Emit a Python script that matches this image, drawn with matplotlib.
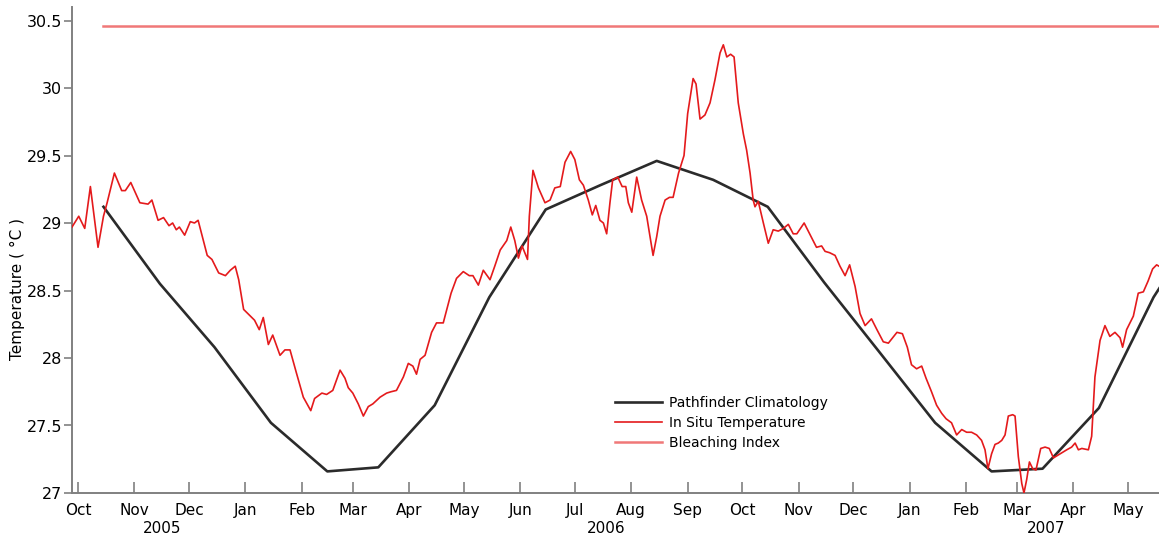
import numpy as np
import pandas as pd
import matplotlib
matplotlib.use("Agg")
import matplotlib.pyplot as plt
import matplotlib.dates as mdates
import matplotlib.transforms as mtransforms

# in situ temperature (days since 2005-10-01, deg C)
insitu_days = [-3.3, 0.4, 3.7, 6.8, 11, 14, 16, 20, 24, 26, 29, 34, 38.5, 40.6, 44, 47, 50, 52, 54, 55.7,
               58.6, 61.7, 64, 66, 71, 73.6, 77.3, 81, 83.7, 86.4, 88.3, 91, 94, 97, 99.6, 101.8, 104.6,
               107, 111, 113.7, 116.5, 120, 123.8, 127.9, 130, 134, 136.6, 140, 144, 146.7, 148.5, 151,
               154, 156.8, 159.5, 162, 166, 169.6, 172, 175, 178.8, 181.5, 184, 186, 188, 190.7, 194.3,
               197, 200.7, 205, 208, 211.7, 215, 217, 220, 222.7, 226.4, 229, 232, 235.6, 237.8, 240,
               242, 244, 247, 248, 250, 253, 256.6, 259.4, 262, 265, 267.6, 270.7, 273, 275.5, 277.7,
               280.4, 282.6, 284.5, 286.8, 288.7, 290.5, 292.3, 293.8, 296.6, 299, 301, 302.4, 304.3,
               307, 309.7, 312.5, 314.3, 316, 318, 319.8, 322.6, 325, 327, 330, 333, 335, 338, 339.6,
               341.8, 344.5, 347.3, 350, 352.8, 354.6, 356.5, 358.6, 360.5, 362.8, 365.6, 367.4, 369.3,
               371, 372, 373.8, 376.6, 379.3, 382, 384.8, 387.6, 390.3, 393, 395, 399, 402, 405.8,
               408.6, 410.5, 413, 416, 418.7, 421.5, 424, 427, 429.7, 432.5, 436, 439, 442.5, 445.3,
               450, 453, 455.7, 458, 460.8, 463.6, 466, 469, 471.8, 474.6, 477, 480, 482.8, 485.6,
               488.3, 491, 493.8, 496.5, 498.4, 500, 502, 503.9, 505.7, 507.6, 509.4, 511.2, 513.6,
               514.9, 516.7, 518.6, 519.8, 521.3, 522.8, 524.6, 526.4, 529, 531.4, 533.7, 536, 539.6,
               543.3, 546, 547.9, 549.7, 551.6, 555.2, 557, 558.8, 561.6, 564.3, 567, 569.8, 572.6,
               574, 576.2, 579.9, 582.6, 585.4, 588, 590.5, 592.7, 594]
insitu_temp = [28.97, 29.05, 28.96, 29.27, 28.82, 29.05, 29.15, 29.37, 29.24, 29.24, 29.30, 29.15, 29.14,
               29.17, 29.02, 29.04, 28.98, 29.00, 28.95, 28.97, 28.91, 29.01, 29.00, 29.02, 28.76, 28.73,
               28.63, 28.61, 28.65, 28.68, 28.58, 28.36, 28.32, 28.28, 28.21, 28.30, 28.10, 28.17, 28.02,
               28.06, 28.06, 27.89, 27.71, 27.61, 27.70, 27.74, 27.73, 27.76, 27.91, 27.85, 27.78, 27.74,
               27.66, 27.57, 27.64, 27.66, 27.71, 27.74, 27.75, 27.76, 27.86, 27.96, 27.94, 27.88, 27.99,
               28.02, 28.19, 28.26, 28.26, 28.48, 28.59, 28.64, 28.61, 28.61, 28.54, 28.65, 28.58, 28.68,
               28.80, 28.87, 28.97, 28.87, 28.74, 28.83, 28.73, 29.05, 29.39, 29.26, 29.15, 29.17, 29.26,
               29.27, 29.45, 29.53, 29.47, 29.32, 29.28, 29.17, 29.06, 29.13, 29.02, 29.00, 28.92, 29.15,
               29.32, 29.34, 29.27, 29.27, 29.15, 29.08, 29.34, 29.17, 29.05, 28.90, 28.76, 28.90, 29.05,
               29.17, 29.19, 29.19, 29.37, 29.50, 29.81, 30.07, 30.03, 29.77, 29.80, 29.89, 30.06, 30.26,
               30.32, 30.23, 30.25, 30.23, 29.89, 29.66, 29.54, 29.37, 29.17, 29.12, 29.16, 29.00, 28.85,
               28.95, 28.94, 28.96, 28.99, 28.92, 28.92, 29.00, 28.92, 28.82, 28.83, 28.79, 28.78, 28.76,
               28.68, 28.61, 28.69, 28.53, 28.33, 28.24, 28.29, 28.21, 28.12, 28.11, 28.19, 28.18, 28.08,
               27.95, 27.92, 27.94, 27.85, 27.75, 27.65, 27.59, 27.55, 27.52, 27.43, 27.47, 27.45, 27.45,
               27.43, 27.39, 27.32, 27.18, 27.29, 27.36, 27.37, 27.39, 27.43, 27.57, 27.58, 27.57, 27.27,
               27.07, 27.00, 27.10, 27.23, 27.18, 27.17, 27.33, 27.34, 27.33, 27.26, 27.29, 27.32, 27.34,
               27.37, 27.32, 27.33, 27.32, 27.42, 27.86, 28.13, 28.24, 28.16, 28.19, 28.15, 28.08, 28.21,
               28.31, 28.48, 28.49, 28.57, 28.66, 28.69, 28.68]

# Pathfinder climatology (mid-month values)
clim_dates = ['2005-10-15', '2005-11-15', '2005-12-15', '2006-01-15', '2006-02-15', '2006-03-15',
              '2006-04-15', '2006-05-15', '2006-06-15', '2006-07-15', '2006-08-15', '2006-09-15',
              '2006-10-15', '2006-11-15', '2006-12-15', '2007-01-15', '2007-02-15', '2007-03-15',
              '2007-04-15', '2007-05-15', '2007-06-15']
clim_temp = [29.12, 28.55, 28.08, 27.52, 27.16, 27.19, 27.65, 28.45, 29.10, 29.28, 29.46, 29.32,
             29.12, 28.56, 28.05, 27.52, 27.16, 27.18, 27.63, 28.45, 29.10]

bleach_start = '2005-10-15'
bleach_level = 30.46

year_labels = ['2005', '2006', '2007']
year_pos = ['2005-11-16', '2006-07-18', '2007-03-17']

base = pd.Timestamp('2005-10-01')
insitu_dates = base + pd.to_timedelta(insitu_days, unit='D')
x_start = base + pd.Timedelta(days=-3.3)
x_end = base + pd.Timedelta(days=594)

fig = plt.figure(figsize=(11.59, 5.36), dpi=100)
ax = fig.add_axes([72/1159, 1 - 493/536, 1087/1159, 486/536])

ax.plot(pd.to_datetime(clim_dates), clim_temp, color='#2b2b2b', lw=1.9, label='Pathfinder Climatology', zorder=3)
ax.plot(insitu_dates, insitu_temp, color='#e41a1c', lw=1.2, label='In Situ Temperature', zorder=4)
ax.plot([pd.Timestamp(bleach_start), x_end], [bleach_level, bleach_level], color='#f07878', lw=1.8,
        label='Bleaching Index', zorder=2, clip_on=False)

ax.set_xlim(x_start, x_end)
ax.set_ylim(27, 30.6)
ax.set_yticks([27, 27.5, 28, 28.5, 29, 29.5, 30, 30.5])
ax.yaxis.set_major_formatter(matplotlib.ticker.FormatStrFormatter('%g'))
ax.xaxis.set_major_locator(mdates.MonthLocator())
ax.xaxis.set_major_formatter(mdates.DateFormatter('%b'))

for s in ['top', 'right']:
    ax.spines[s].set_visible(False)
for s in ['left', 'bottom']:
    ax.spines[s].set_color('#808080')
    ax.spines[s].set_linewidth(1.4)

ax.tick_params(axis='x', direction='in', length=8, width=1.2, color='#808080', labelsize=11, pad=7)
ax.tick_params(axis='y', direction='out', length=6, width=1.2, color='#808080', labelsize=11.5, pad=1)

ax.set_ylabel('Temperature ( °C )', fontsize=11)
ax.yaxis.set_label_coords(-0.043, 0.42)

trans = mtransforms.blended_transform_factory(ax.transData, ax.transAxes)
for lab, pos in zip(year_labels, year_pos):
    ax.text(pd.Timestamp(pos), -0.073, lab, transform=trans, ha='center', va='center', fontsize=11)

ax.legend(loc='center left', bbox_to_anchor=(0.4995, 0.144), frameon=False, fontsize=10,
          handlelength=3.4, handletextpad=0.5, labelspacing=0.45, borderpad=0, borderaxespad=0)

fig.savefig('out.png', dpi=100)
